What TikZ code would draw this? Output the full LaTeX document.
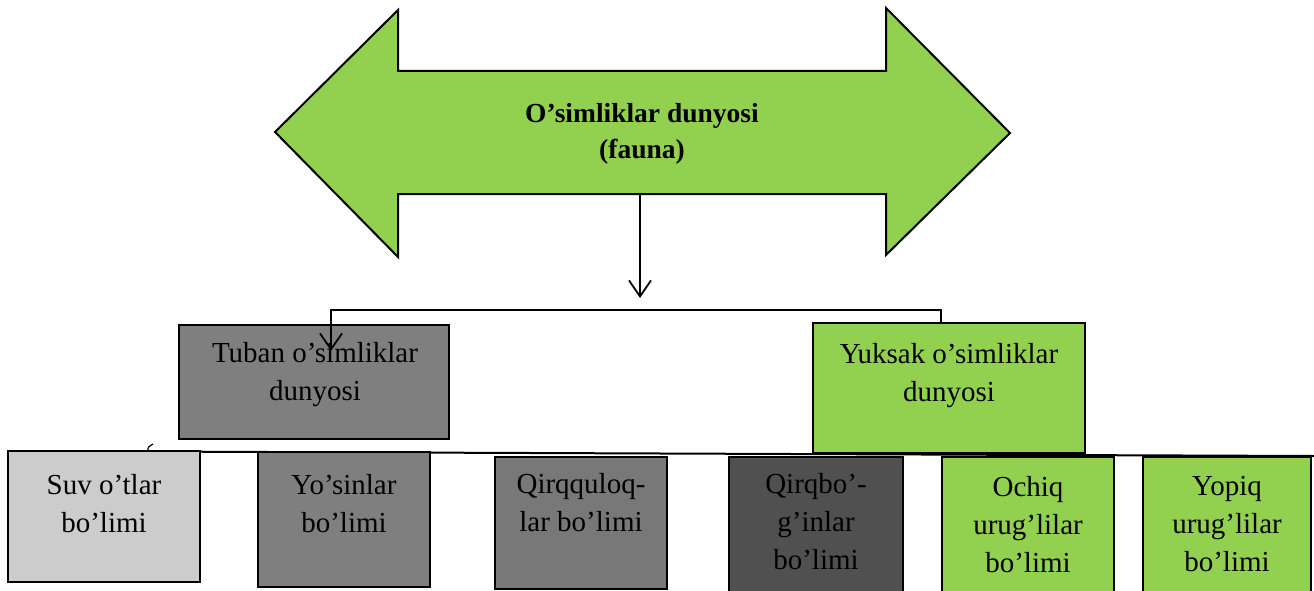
\documentclass[tikz,border=0pt]{standalone}
\usepackage{fontspec}
\setmainfont{Liberation Serif}
\usetikzlibrary{arrows.meta}
\definecolor{leaf}{HTML}{92D050}
\definecolor{gA}{HTML}{7F7F7F}
\definecolor{gL}{HTML}{CCCCCC}
\definecolor{gM}{HTML}{787878}
\definecolor{gD}{HTML}{505050}
\begin{document}
\begin{tikzpicture}[x=1pt,y=-1pt,
  boxnode/.style={draw=black, line width=2pt, inner sep=0pt},
  txt/.style={align=center, font=\fontsize{29}{38}\selectfont, inner sep=0pt},
  conn/.style={line width=2pt},
  vtip/.style={-{Straight Barb[length=16pt,width=22pt,line width=1.8pt]}}]
\clip (0,0) rectangle (1314,591);
% big double arrow
\draw[fill=leaf, line width=2pt, line join=miter]
  (275,132) -- (398,10) -- (398,71) -- (886,71) -- (886,8) -- (1010,133)
  -- (886,255) -- (886,194) -- (398,194) -- (398,257) -- cycle;
\node[align=center, inner sep=0pt, font=\fontsize{27.5}{36}\selectfont\bfseries] (title) at (642,134)
  {O’simliklar dunyosi\\(fauna)};
\coordinate (shaft) at (640,194);
\coordinate (split) at (640,298);
\draw[conn, vtip] (shaft) -- (split);
% bottom long line
\coordinate (lineL) at (8,451);
\coordinate (lineR) at (1314,456);
\draw[conn] (lineL) -- (lineR);
% second level boxes
\node[boxnode, fill=gA, minimum width=270pt, minimum height=114pt] (tuban) at (314,382) {};
\node[txt] (tubanT) at (315,375) {Tuban o’simliklar\\dunyosi};
\node[boxnode, fill=leaf, minimum width=272pt, minimum height=130pt] (yuksak) at (949,388) {};
\node[txt] (yuksakT) at (949,376) {Yuksak o’simliklar\\dunyosi};
% bracket connector
\coordinate (yk) at (941,323);
\coordinate (brR) at (941,310);
\coordinate (brL) at (331,310);
\coordinate (tb) at (331,351);
\draw[conn, vtip] (yk) -- (brR) -- (brL) -- (tb);
% stray tick
\coordinate (tickA) at (148,451);
\coordinate (tickB) at (153,444);
\draw[line width=1.2pt] (tickA) .. controls (148,447) .. (tickB);
% bottom boxes
\node[boxnode, fill=gL, minimum width=192pt, minimum height=131pt] (suv) at (104,516.5) {};
\node[txt] (suvT) at (104,503.5) {Suv o’tlar\\bo’limi};
\node[boxnode, fill=gA, minimum width=172pt, minimum height=135pt] (yos) at (344,519.5) {};
\node[txt] (yosT) at (344,503.5) {Yo’sinlar\\bo’limi};
\node[boxnode, fill=gM, minimum width=172pt, minimum height=132pt] (qirq) at (581,523) {};
\node[txt] (qirqT) at (581,503) {Qirqquloq-\\lar bo’limi};
\node[boxnode, fill=gD, minimum width=174pt, minimum height=140pt] (qbo) at (816,527) {};
\node[txt] (qboT) at (816,522) {Qirqbo’-\\g’inlar\\bo’limi};
\node[boxnode, fill=leaf, minimum width=172pt, minimum height=140pt] (ochiq) at (1028,527) {};
\node[txt] (ochiqT) at (1028,524.5) {Ochiq\\urug’lilar\\bo’limi};
\node[boxnode, fill=leaf, minimum width=168pt, minimum height=140pt] (yopiq) at (1227,527) {};
\node[txt] (yopiqT) at (1227,524.5) {Yopiq\\urug’lilar\\bo’limi};
\end{tikzpicture}
\end{document}
